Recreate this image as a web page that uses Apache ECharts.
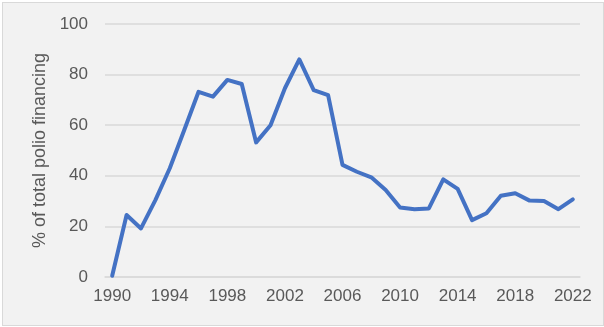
<!DOCTYPE html>
<html>
<head>
<meta charset="utf-8">
<script src="https://cdn.jsdelivr.net/npm/echarts@6/dist/echarts.min.js"></script>
<style>
  html, body { margin: 0; padding: 0; background: #ffffff; }
  #chart {
    position: absolute;
    left: 2px;
    top: 2px;
    width: 602px;
    height: 324px;
    border: 1px solid #d9d9d9;
    background: #f2f2f2;
    box-sizing: border-box;
  }
</style>
</head>
<body>
<div id="chart"></div>
<script>
const years = [];
for (let y = 1990; y <= 2022; y++) years.push(String(y));

const share = [
  0.5, 24.5, 19.2, 30.4, 43, 58, 73.2, 71.3, 77.9, 76.3,
  53.2, 60, 74.6, 86, 73.9, 71.9, 44.3, 41.6, 39.4, 34.4,
  27.5, 26.8, 27.1, 38.6, 34.8, 22.5, 25.2, 32.1, 33.1, 30.2,
  30, 26.8, 30.7
];

const yTicks = [0, 20, 40, 60, 80, 100];

const textColor = "#595959";
const font = "Liberation Sans";

const chart = echarts.init(document.getElementById("chart"));
chart.setOption({
  animation: false,
  grid: {
    left: 102,
    right: 23,
    top: 21,
    bottom: 48,
    containLabel: false,
  },
  xAxis: {
    type: "category",
    data: years,
    boundaryGap: true,
    axisLine: { show: true, lineStyle: { color: "#d9d9d9", width: 1.5 } },
    axisTick: { show: false },
    axisLabel: {
      interval: 3,
      color: textColor,
      fontFamily: font,
      fontSize: 17,
      margin: 11,
    },
  },
  yAxis: {
    type: "value",
    min: yTicks[0],
    max: yTicks[yTicks.length - 1],
    interval: 20,
    name: "% of total polio financing",
    nameLocation: "middle",
    nameGap: 46,
    nameTextStyle: {
      color: textColor,
      fontFamily: font,
      fontSize: 18,
    },
    axisLine: { show: false },
    axisTick: { show: false },
    axisLabel: {
      color: textColor,
      fontFamily: font,
      fontSize: 17,
      margin: 17,
    },
    splitLine: {
      show: true,
      lineStyle: { color: "#d9d9d9", width: 1.5 },
    },
  },
  series: [
    {
      type: "line",
      data: share,
      symbol: "none",
      lineStyle: { color: "#4472c4", width: 4, join: "round", cap: "round" },
    },
  ],
});
</script>
</body>
</html>
